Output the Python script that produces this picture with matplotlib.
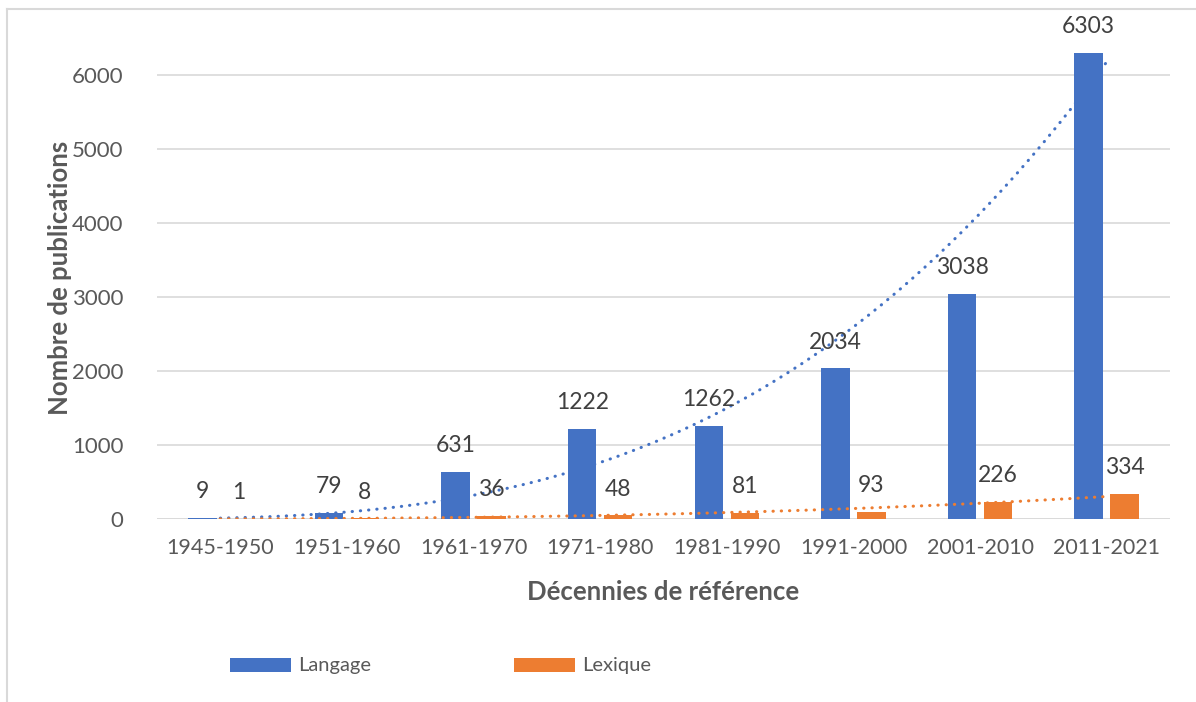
import numpy as np
import matplotlib
matplotlib.use("Agg")
import matplotlib.pyplot as plt
from matplotlib.lines import Line2D
from matplotlib.patches import Rectangle

categories = ["1945-1950", "1951-1960", "1961-1970", "1971-1980",
              "1981-1990", "1991-2000", "2001-2010", "2011-2021"]
langage = [9, 79, 631, 1222, 1262, 2034, 3038, 6303]
lexique = [1, 8, 36, 48, 81, 93, 226, 334]
yticks = [0, 1000, 2000, 3000, 4000, 5000, 6000]

BLUE = "#4472C4"
ORANGE = "#ED7D31"
GRID = "#D9D9D9"
TXT = "#595959"
LBL = "#404040"
FONT = "Lato"

plt.rcParams["font.family"] = [FONT, "DejaVu Sans"]

W, H = 1196, 702
fig = plt.figure(figsize=(W / 100, H / 100), dpi=100)


def fx(px):
    return px / W


def fy(py):
    return 1 - py / H


# chart frame (left/top edges visible)
fig.add_artist(Line2D([fx(7), fx(7)], [0, fy(9)], transform=fig.transFigure, color=GRID, lw=1.5))
fig.add_artist(Line2D([fx(7), 1], [fy(9), fy(9)], transform=fig.transFigure, color=GRID, lw=1.5))

left, right = 157 / W, 1170 / W
bottom, top = fy(519), fy(38)
ax = fig.add_axes([left, bottom, right - left, top - bottom])

x = np.arange(len(categories))
bw = 0.225
off = 0.142
ax.bar(x - off, langage, width=bw, color=BLUE, zorder=2)
ax.bar(x + off, lexique, width=bw, color=ORANGE, zorder=2)

# power trendlines (log-log least squares, as in spreadsheet trendlines)
n = np.arange(1, len(categories) + 1)
ns = np.linspace(1, len(categories), 200)
dot = (0, (0.1, 2.6))
for series, col in ((langage, BLUE), (lexique, ORANGE)):
    b, lna = np.polyfit(np.log(n), np.log(series), 1)
    ax.plot(ns - 1, np.exp(lna) * ns ** b, color=col, lw=2.2, linestyle=dot,
            dash_capstyle="round", zorder=3)

for xs_, vals in ((x - off, langage), (x + off, lexique)):
    for xi, v in zip(xs_, vals):
        ax.annotate(str(v), (xi, v), xytext=(0, 19), textcoords="offset points",
                    ha="center", va="center", fontsize=16.5, color=LBL, zorder=4)

ax.set_xlim(-0.5, len(categories) - 0.5)
ax.set_ylim(0, 6500)
ax.set_yticks(yticks)
ax.set_xticks(x)
ax.set_xticklabels(categories)
ax.yaxis.grid(True, color=GRID, lw=1.2, zorder=0)
ax.set_axisbelow(True)
for s in ax.spines.values():
    s.set_visible(False)
ax.tick_params(axis="both", length=0, labelsize=15.5, labelcolor=TXT)
ax.tick_params(axis="y", labelsize=16, pad=24)
ax.tick_params(axis="x", pad=14)
ax.axhline(0, color=GRID, lw=1.2, zorder=1)

ax.set_xlabel("Décennies de référence", fontsize=18.5, fontweight="bold", color=TXT)
ax.set_ylabel("Nombre de publications", fontsize=18.5, fontweight="bold", color=TXT)
ax.xaxis.set_label_coords((663 - 157) / 1013, (519 - 592) / 481)
ax.yaxis.set_label_coords((60 - 157) / 1013, (519 - 278) / 481)
ax.xaxis.label.set_va("center")
ax.yaxis.label.set_va("center")

# legend
for (x0, x1, tx, lab, col) in ((230, 291, 298, "Langage", BLUE), (514, 575, 582, "Lexique", ORANGE)):
    fig.add_artist(Rectangle((fx(x0), fy(672)), fx(x1) - fx(x0), fy(658) - fy(672),
                             transform=fig.transFigure, facecolor=col, edgecolor="none"))
    fig.text(fx(tx), fy(665), lab, fontsize=14.5, color=TXT, ha="left", va="center")

fig.savefig("out.png", dpi=100)
